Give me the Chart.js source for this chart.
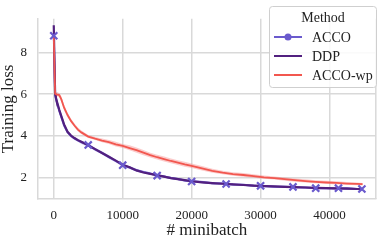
<!DOCTYPE html>
<html>
<head>
<meta charset="utf-8">
<script src="https://cdn.jsdelivr.net/npm/chart.js@4.4.1/dist/chart.umd.min.js"></script>
<style>
  body { margin: 0; background: #fff; }
  #wrap { width: 383px; height: 244px; }
</style>
</head>
<body>
<div id="wrap"><canvas id="lossChart"></canvas></div>
<script>
// data
const steps = [0, 100, 200, 300, 500, 800, 1100, 1500, 2000, 2500, 3000, 3500, 4000, 5000, 6000, 7000, 8000, 9000, 10000,
  11000, 12000, 13000, 14000, 15000, 16000, 17000, 18000, 19000, 20000, 21500, 23000, 24500, 26000, 27500, 29000,
  30500, 32000, 33500, 35000, 36500, 38000, 39500, 41000, 42500, 44000, 44800];

const ddpLoss = [9.3, 7.6, 6.0, 5.85, 5.6, 5.25, 4.95, 4.55, 4.2, 4.02, 3.9, 3.8, 3.72, 3.55, 3.37, 3.18, 3.0, 2.82, 2.62,
  2.5, 2.35, 2.25, 2.18, 2.12, 2.05, 1.98, 1.93, 1.88, 1.83, 1.78, 1.74, 1.71, 1.68, 1.65, 1.62,
  1.6, 1.58, 1.56, 1.55, 1.53, 1.51, 1.5, 1.49, 1.48, 1.46, 1.45];

const accoLoss = [8.85, 7.4, 6.0, 5.8, 5.55, 5.2, 4.9, 4.5, 4.18, 4.0, 3.88, 3.79, 3.7, 3.56, 3.36, 3.19, 2.99, 2.8, 2.6,
  2.49, 2.36, 2.27, 2.2, 2.1, 2.06, 1.99, 1.94, 1.87, 1.83, 1.79, 1.73, 1.72, 1.67, 1.66, 1.61,
  1.6, 1.57, 1.57, 1.54, 1.53, 1.5, 1.5, 1.48, 1.49, 1.46, 1.45];
const accoHigh = [8.9, 7.5, 6.05, 5.87, 5.63, 5.3, 4.98, 4.58, 4.25, 4.07, 3.95, 3.86, 3.78, 3.64, 3.44, 3.27, 3.07, 2.87, 2.67,
  2.56, 2.43, 2.33, 2.26, 2.16, 2.12, 2.05, 2.0, 1.93, 1.89, 1.85, 1.79, 1.78, 1.73, 1.71, 1.67,
  1.65, 1.62, 1.62, 1.59, 1.58, 1.55, 1.55, 1.53, 1.54, 1.51, 1.5];
const accoLow = [8.8, 7.3, 5.95, 5.73, 5.47, 5.1, 4.82, 4.42, 4.11, 3.93, 3.81, 3.72, 3.62, 3.48, 3.28, 3.11, 2.91, 2.73, 2.53,
  2.42, 2.29, 2.21, 2.14, 2.04, 2.0, 1.93, 1.88, 1.81, 1.77, 1.73, 1.67, 1.66, 1.61, 1.61, 1.55,
  1.55, 1.52, 1.52, 1.49, 1.48, 1.45, 1.45, 1.43, 1.44, 1.41, 1.4];

const wpLoss = [8.85, 7.3, 6.02, 6.0, 5.98, 5.96, 5.75, 5.35, 5.0, 4.72, 4.5, 4.3, 4.17, 3.97, 3.87, 3.78, 3.7, 3.6, 3.52,
  3.42, 3.32, 3.2, 3.08, 2.98, 2.89, 2.8, 2.72, 2.64, 2.57, 2.45, 2.33, 2.24, 2.17, 2.13, 2.08,
  2.02, 1.98, 1.93, 1.88, 1.84, 1.8, 1.77, 1.75, 1.72, 1.7, 1.69];
const wpHigh = [8.9, 7.4, 6.1, 6.08, 6.1, 6.05, 5.9, 5.5, 5.12, 4.82, 4.6, 4.4, 4.26, 4.05, 3.95, 3.88, 3.8, 3.72, 3.62,
  3.55, 3.45, 3.33, 3.2, 3.1, 3.01, 2.92, 2.84, 2.76, 2.68, 2.56, 2.43, 2.33, 2.26, 2.22, 2.17,
  2.1, 2.06, 2.01, 1.96, 1.92, 1.88, 1.85, 1.83, 1.79, 1.77, 1.75];
const wpLow = [8.8, 7.2, 5.95, 5.93, 5.9, 5.85, 5.62, 5.22, 4.9, 4.63, 4.42, 4.22, 4.09, 3.9, 3.8, 3.7, 3.62, 3.5, 3.42,
  3.32, 3.2, 3.08, 2.97, 2.87, 2.78, 2.69, 2.61, 2.53, 2.47, 2.35, 2.24, 2.16, 2.09, 2.05, 2.0,
  1.95, 1.91, 1.86, 1.81, 1.77, 1.73, 1.71, 1.68, 1.66, 1.64, 1.63];

// ACCO cross markers
const accoMarkSteps = [0, 5000, 10000, 15000, 20000, 25000, 30000, 34700, 38000, 41300, 44700];
const accoMarkLoss = [8.8, 3.57, 2.6, 2.1, 1.82, 1.7, 1.61, 1.56, 1.5, 1.5, 1.46];

const xTicks = [0, 10000, 20000, 30000, 40000];
const yTicks = [2, 4, 6, 8];

const methods = ['ACCO', 'DDP', 'ACCO-wp'];

const ACCO_COLOR = '#6a5acd';
const DDP_COLOR = '#52207f';
const WP_COLOR = '#f2574f';
const GRID = '#d9d9d9';
const SERIF = "'Liberation Serif', 'DejaVu Serif', serif";

const pts = arr => arr.map((y, i) => ({ x: steps[i], y: y }));

// legend + right spine, drawn on top
const legendBox = {
  id: 'legendBox',
  afterDraw(chart) {
    const ctx = chart.ctx;
    const area = chart.chartArea;
    ctx.save();
    ctx.strokeStyle = GRID;
    ctx.lineWidth = 1.5;
    ctx.beginPath();
    ctx.moveTo(area.right, area.top);
    ctx.lineTo(area.right, area.bottom);
    ctx.stroke();

    const bx = 269.5, by = 6.5, bw = 107, bh = 81;
    ctx.fillStyle = 'rgba(255,255,255,0.85)';
    ctx.strokeStyle = '#cfcfcf';
    ctx.lineWidth = 1;
    ctx.beginPath();
    ctx.roundRect(bx, by, bw, bh, 3);
    ctx.fill();
    ctx.stroke();

    ctx.fillStyle = '#222';
    ctx.textBaseline = 'middle';
    ctx.textAlign = 'center';
    ctx.font = '14px ' + SERIF;
    ctx.fillText('Method', 323, 18);

    const colors = [ACCO_COLOR, DDP_COLOR, WP_COLOR];
    const rows = [37, 56, 75];
    ctx.textAlign = 'left';
    ctx.font = '14px ' + SERIF;
    methods.forEach((name, i) => {
      ctx.strokeStyle = colors[i];
      ctx.lineWidth = 2;
      ctx.beginPath();
      ctx.moveTo(274, rows[i]);
      ctx.lineTo(302, rows[i]);
      ctx.stroke();
      if (i === 0) {
        ctx.fillStyle = colors[i];
        ctx.beginPath();
        ctx.arc(288, rows[i], 3.5, 0, Math.PI * 2);
        ctx.fill();
      }
      ctx.fillStyle = '#222';
      ctx.fillText(name, 312, rows[i] + 1);
    });
    ctx.restore();
  }
};

new Chart(document.getElementById('lossChart'), {
  type: 'line',
  data: {
    datasets: [
      {
        label: 'ACCO markers',
        data: accoMarkLoss.map((y, i) => ({ x: accoMarkSteps[i], y: y })),
        showLine: false,
        pointStyle: 'crossRot',
        pointRadius: 5,
        pointBorderWidth: 2.2,
        borderColor: ACCO_COLOR,
        backgroundColor: ACCO_COLOR
      },
      {
        label: 'ACCO-wp',
        data: pts(wpLoss),
        borderColor: WP_COLOR,
        borderWidth: 1.8,
        pointRadius: 0
      },
      {
        label: 'DDP',
        data: pts(ddpLoss),
        borderColor: DDP_COLOR,
        borderWidth: 2.2,
        pointRadius: 0
      },
      {
        label: 'ACCO',
        data: pts(accoLoss),
        borderColor: ACCO_COLOR,
        borderWidth: 2,
        pointRadius: 0
      },
      {
        label: 'ACCO high',
        data: pts(accoHigh),
        borderWidth: 0,
        pointRadius: 0,
        fill: '+1',
        backgroundColor: 'rgba(120,100,215,0.35)'
      },
      {
        label: 'ACCO low',
        data: pts(accoLow),
        borderWidth: 0,
        pointRadius: 0
      },
      {
        label: 'ACCO-wp high',
        data: pts(wpHigh),
        borderWidth: 0,
        pointRadius: 0,
        fill: '+1',
        backgroundColor: 'rgba(245,120,120,0.38)'
      },
      {
        label: 'ACCO-wp low',
        data: pts(wpLow),
        borderWidth: 0,
        pointRadius: 0
      }
    ]
  },
  options: {
    responsive: true,
    maintainAspectRatio: false,
    animation: false,
    layout: { padding: { right: 1 } },
    elements: { line: { tension: 0 } },
    scales: {
      x: {
        type: 'linear',
        min: -2286,
        max: 46714,
        afterFit: scale => { scale.height = 45; },
        afterBuildTicks: scale => { scale.ticks = xTicks.map(v => ({ value: v })); },
        grid: { color: GRID, lineWidth: 1.5, drawTicks: false },
        border: { display: true, color: GRID, width: 1.5 },
        ticks: {
          padding: 9,
          maxRotation: 0,
          autoSkip: false,
          color: '#222',
          font: { family: SERIF, size: 13 },
          callback: v => String(v)
        },
        title: {
          display: true,
          text: '# minibatch',
          color: '#222',
          font: { family: SERIF, size: 17, lineHeight: 1.2 },
          padding: { top: 0, bottom: 3 }
        }
      },
      y: {
        min: 0.98,
        max: 9.61,
        afterFit: scale => { scale.width = 38; },
        afterBuildTicks: scale => { scale.ticks = yTicks.map(v => ({ value: v })); },
        grid: { color: GRID, lineWidth: 1.5, drawTicks: false },
        border: { display: true, color: GRID, width: 1.5 },
        ticks: {
          padding: 11,
          color: '#222',
          font: { family: SERIF, size: 13 },
          callback: v => String(v)
        },
        title: {
          display: true,
          text: 'Training loss',
          color: '#222',
          font: { family: SERIF, size: 17, lineHeight: 1 },
          padding: 0
        }
      }
    },
    plugins: {
      legend: { display: false },
      tooltip: { enabled: false }
    }
  },
  plugins: [legendBox]
});
</script>
</body>
</html>
